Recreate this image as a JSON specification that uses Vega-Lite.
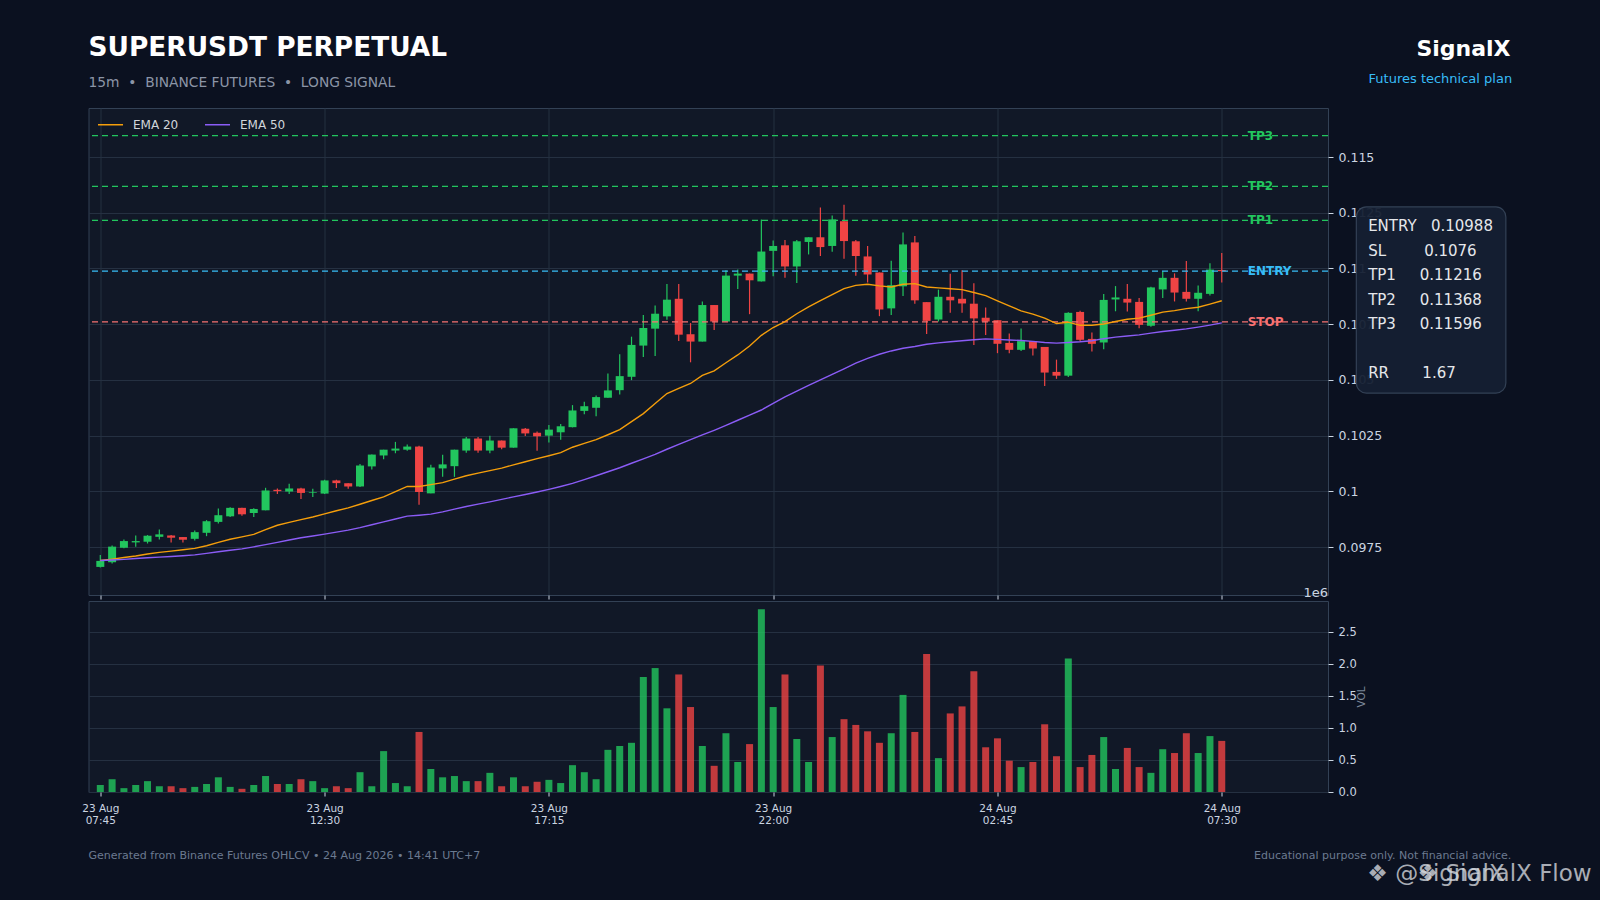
{
  "$schema": "https://vega.github.io/schema/vega-lite/v6.json",
  "background": "#0b1120",
  "autosize": {"type": "none"},
  "padding": {"left": 88.5, "top": 108, "right": 1511.5, "bottom": 792},
  "datasets": {
    "candles": [
      {"t":"2026-08-23T07:45:00Z","o":0.09661,"h":0.09714,"l":0.09658,"c":0.09688,"v":0.11,"e20":0.09690,"e50":0.09690},
      {"t":"2026-08-23T08:00:00Z","o":0.09682,"h":0.09757,"l":0.09676,"c":0.09752,"v":0.20,"e20":0.09696,"e50":0.09692},
      {"t":"2026-08-23T08:15:00Z","o":0.09747,"h":0.09784,"l":0.09745,"c":0.09777,"v":0.06,"e20":0.09703,"e50":0.09695},
      {"t":"2026-08-23T08:30:00Z","o":0.09771,"h":0.09802,"l":0.09752,"c":0.09777,"v":0.11,"e20":0.09710,"e50":0.09699},
      {"t":"2026-08-23T08:45:00Z","o":0.09774,"h":0.09804,"l":0.09766,"c":0.09801,"v":0.17,"e20":0.09719,"e50":0.09702},
      {"t":"2026-08-23T09:00:00Z","o":0.09796,"h":0.09829,"l":0.09784,"c":0.09807,"v":0.09,"e20":0.09726,"e50":0.09705},
      {"t":"2026-08-23T09:15:00Z","o":0.09802,"h":0.09804,"l":0.09771,"c":0.09792,"v":0.09,"e20":0.09732,"e50":0.09708},
      {"t":"2026-08-23T09:30:00Z","o":0.09795,"h":0.09795,"l":0.09770,"c":0.09783,"v":0.06,"e20":0.09738,"e50":0.09711},
      {"t":"2026-08-23T09:45:00Z","o":0.09787,"h":0.09824,"l":0.09780,"c":0.09817,"v":0.08,"e20":0.09744,"e50":0.09715},
      {"t":"2026-08-23T10:00:00Z","o":0.09814,"h":0.09871,"l":0.09799,"c":0.09866,"v":0.125,"e20":0.09756,"e50":0.09722},
      {"t":"2026-08-23T10:15:00Z","o":0.09863,"h":0.09923,"l":0.09856,"c":0.09893,"v":0.23,"e20":0.09771,"e50":0.09729},
      {"t":"2026-08-23T10:30:00Z","o":0.09888,"h":0.09929,"l":0.09885,"c":0.09926,"v":0.08,"e20":0.09785,"e50":0.09736},
      {"t":"2026-08-23T10:45:00Z","o":0.09926,"h":0.09926,"l":0.09891,"c":0.09897,"v":0.05,"e20":0.09796,"e50":0.09742},
      {"t":"2026-08-23T11:00:00Z","o":0.09903,"h":0.09924,"l":0.09885,"c":0.09921,"v":0.11,"e20":0.09807,"e50":0.09751},
      {"t":"2026-08-23T11:15:00Z","o":0.09915,"h":0.10016,"l":0.09915,"c":0.10004,"v":0.25,"e20":0.09828,"e50":0.09761},
      {"t":"2026-08-23T11:30:00Z","o":0.10007,"h":0.10013,"l":0.09988,"c":0.10001,"v":0.125,"e20":0.09848,"e50":0.09771},
      {"t":"2026-08-23T11:45:00Z","o":0.09999,"h":0.10034,"l":0.09988,"c":0.10013,"v":0.125,"e20":0.09861,"e50":0.09782},
      {"t":"2026-08-23T12:00:00Z","o":0.10013,"h":0.10016,"l":0.09966,"c":0.09993,"v":0.20,"e20":0.09873,"e50":0.09792},
      {"t":"2026-08-23T12:15:00Z","o":0.09993,"h":0.10012,"l":0.09975,"c":0.09996,"v":0.17,"e20":0.09885,"e50":0.09800},
      {"t":"2026-08-23T12:30:00Z","o":0.09990,"h":0.10052,"l":0.09988,"c":0.10049,"v":0.06,"e20":0.09899,"e50":0.09808},
      {"t":"2026-08-23T12:45:00Z","o":0.10049,"h":0.10052,"l":0.10015,"c":0.10037,"v":0.09,"e20":0.09913,"e50":0.09817},
      {"t":"2026-08-23T13:00:00Z","o":0.10036,"h":0.10036,"l":0.10012,"c":0.10022,"v":0.06,"e20":0.09926,"e50":0.09826},
      {"t":"2026-08-23T13:15:00Z","o":0.10022,"h":0.10123,"l":0.10019,"c":0.10116,"v":0.31,"e20":0.09942,"e50":0.09837},
      {"t":"2026-08-23T13:30:00Z","o":0.10112,"h":0.10165,"l":0.10098,"c":0.10165,"v":0.09,"e20":0.09959,"e50":0.09850},
      {"t":"2026-08-23T13:45:00Z","o":0.10161,"h":0.10187,"l":0.10144,"c":0.10187,"v":0.64,"e20":0.09975,"e50":0.09863},
      {"t":"2026-08-23T14:00:00Z","o":0.10183,"h":0.10222,"l":0.10171,"c":0.10192,"v":0.14,"e20":0.09999,"e50":0.09876},
      {"t":"2026-08-23T14:15:00Z","o":0.10187,"h":0.10210,"l":0.10182,"c":0.10201,"v":0.09,"e20":0.10022,"e50":0.09889},
      {"t":"2026-08-23T14:30:00Z","o":0.10201,"h":0.10205,"l":0.09940,"c":0.09997,"v":0.94,"e20":0.10022,"e50":0.09893},
      {"t":"2026-08-23T14:45:00Z","o":0.09991,"h":0.10119,"l":0.09991,"c":0.10107,"v":0.36,"e20":0.10030,"e50":0.09898},
      {"t":"2026-08-23T15:00:00Z","o":0.10103,"h":0.10164,"l":0.10065,"c":0.10121,"v":0.23,"e20":0.10039,"e50":0.09908},
      {"t":"2026-08-23T15:15:00Z","o":0.10113,"h":0.10187,"l":0.10065,"c":0.10187,"v":0.25,"e20":0.10055,"e50":0.09920},
      {"t":"2026-08-23T15:30:00Z","o":0.10183,"h":0.10244,"l":0.10173,"c":0.10237,"v":0.17,"e20":0.10070,"e50":0.09932},
      {"t":"2026-08-23T15:45:00Z","o":0.10237,"h":0.10244,"l":0.10173,"c":0.10183,"v":0.17,"e20":0.10082,"e50":0.09943},
      {"t":"2026-08-23T16:00:00Z","o":0.10183,"h":0.10250,"l":0.10171,"c":0.10228,"v":0.30,"e20":0.10093,"e50":0.09953},
      {"t":"2026-08-23T16:15:00Z","o":0.10228,"h":0.10228,"l":0.10189,"c":0.10196,"v":0.09,"e20":0.10104,"e50":0.09964},
      {"t":"2026-08-23T16:30:00Z","o":0.10196,"h":0.10283,"l":0.10196,"c":0.10283,"v":0.23,"e20":0.10119,"e50":0.09975},
      {"t":"2026-08-23T16:45:00Z","o":0.10281,"h":0.10284,"l":0.10248,"c":0.10260,"v":0.09,"e20":0.10133,"e50":0.09986},
      {"t":"2026-08-23T17:00:00Z","o":0.10263,"h":0.10269,"l":0.10182,"c":0.10247,"v":0.16,"e20":0.10147,"e50":0.09997},
      {"t":"2026-08-23T17:15:00Z","o":0.10250,"h":0.10298,"l":0.10219,"c":0.10277,"v":0.19,"e20":0.10160,"e50":0.10009},
      {"t":"2026-08-23T17:30:00Z","o":0.10265,"h":0.10302,"l":0.10231,"c":0.10292,"v":0.14,"e20":0.10174,"e50":0.10022},
      {"t":"2026-08-23T17:45:00Z","o":0.10288,"h":0.10387,"l":0.10287,"c":0.10363,"v":0.42,"e20":0.10198,"e50":0.10036},
      {"t":"2026-08-23T18:00:00Z","o":0.10361,"h":0.10402,"l":0.10346,"c":0.10382,"v":0.31,"e20":0.10215,"e50":0.10053},
      {"t":"2026-08-23T18:15:00Z","o":0.10375,"h":0.10430,"l":0.10337,"c":0.10423,"v":0.20,"e20":0.10232,"e50":0.10070},
      {"t":"2026-08-23T18:30:00Z","o":0.10420,"h":0.10529,"l":0.10420,"c":0.10453,"v":0.66,"e20":0.10254,"e50":0.10088},
      {"t":"2026-08-23T18:45:00Z","o":0.10454,"h":0.10615,"l":0.10435,"c":0.10517,"v":0.72,"e20":0.10277,"e50":0.10106},
      {"t":"2026-08-23T19:00:00Z","o":0.10514,"h":0.10694,"l":0.10499,"c":0.10657,"v":0.77,"e20":0.10313,"e50":0.10126},
      {"t":"2026-08-23T19:15:00Z","o":0.10654,"h":0.10791,"l":0.10603,"c":0.10733,"v":1.80,"e20":0.10349,"e50":0.10146},
      {"t":"2026-08-23T19:30:00Z","o":0.10730,"h":0.10834,"l":0.10607,"c":0.10797,"v":1.94,"e20":0.10394,"e50":0.10166},
      {"t":"2026-08-23T19:45:00Z","o":0.10785,"h":0.10930,"l":0.10770,"c":0.10860,"v":1.31,"e20":0.10439,"e50":0.10189},
      {"t":"2026-08-23T20:00:00Z","o":0.10864,"h":0.10930,"l":0.10675,"c":0.10703,"v":1.84,"e20":0.10462,"e50":0.10211},
      {"t":"2026-08-23T20:15:00Z","o":0.10705,"h":0.10755,"l":0.10579,"c":0.10672,"v":1.33,"e20":0.10484,"e50":0.10232},
      {"t":"2026-08-23T20:30:00Z","o":0.10672,"h":0.10852,"l":0.10672,"c":0.10836,"v":0.72,"e20":0.10520,"e50":0.10253},
      {"t":"2026-08-23T20:45:00Z","o":0.10836,"h":0.10836,"l":0.10724,"c":0.10762,"v":0.41,"e20":0.10541,"e50":0.10274},
      {"t":"2026-08-23T21:00:00Z","o":0.10762,"h":0.10992,"l":0.10762,"c":0.10968,"v":0.92,"e20":0.10577,"e50":0.10296},
      {"t":"2026-08-23T21:15:00Z","o":0.10968,"h":0.10995,"l":0.10908,"c":0.10977,"v":0.47,"e20":0.10612,"e50":0.10319},
      {"t":"2026-08-23T21:30:00Z","o":0.10977,"h":0.10977,"l":0.10795,"c":0.10947,"v":0.75,"e20":0.10652,"e50":0.10342},
      {"t":"2026-08-23T21:45:00Z","o":0.10942,"h":0.11220,"l":0.10942,"c":0.11076,"v":2.86,"e20":0.10700,"e50":0.10365},
      {"t":"2026-08-23T22:00:00Z","o":0.11079,"h":0.11125,"l":0.10965,"c":0.11101,"v":1.33,"e20":0.10735,"e50":0.10395},
      {"t":"2026-08-23T22:15:00Z","o":0.11104,"h":0.11128,"l":0.10958,"c":0.11009,"v":1.84,"e20":0.10762,"e50":0.10424},
      {"t":"2026-08-23T22:30:00Z","o":0.11009,"h":0.11128,"l":0.10935,"c":0.11122,"v":0.83,"e20":0.10797,"e50":0.10450},
      {"t":"2026-08-23T22:45:00Z","o":0.11119,"h":0.11140,"l":0.11063,"c":0.11140,"v":0.47,"e20":0.10828,"e50":0.10475},
      {"t":"2026-08-23T23:00:00Z","o":0.11140,"h":0.11274,"l":0.11056,"c":0.11096,"v":1.98,"e20":0.10856,"e50":0.10500},
      {"t":"2026-08-23T23:15:00Z","o":0.11101,"h":0.11238,"l":0.11075,"c":0.11220,"v":0.86,"e20":0.10883,"e50":0.10525},
      {"t":"2026-08-23T23:30:00Z","o":0.11212,"h":0.11286,"l":0.11044,"c":0.11123,"v":1.14,"e20":0.10910,"e50":0.10550},
      {"t":"2026-08-23T23:45:00Z","o":0.11122,"h":0.11128,"l":0.10967,"c":0.11056,"v":1.05,"e20":0.10924,"e50":0.10575},
      {"t":"2026-08-24T00:00:00Z","o":0.11054,"h":0.11101,"l":0.10937,"c":0.10973,"v":0.95,"e20":0.10929,"e50":0.10597},
      {"t":"2026-08-24T00:15:00Z","o":0.10982,"h":0.10982,"l":0.10786,"c":0.10816,"v":0.77,"e20":0.10922,"e50":0.10615},
      {"t":"2026-08-24T00:30:00Z","o":0.10821,"h":0.11035,"l":0.10791,"c":0.10925,"v":0.92,"e20":0.10917,"e50":0.10630},
      {"t":"2026-08-24T00:45:00Z","o":0.10920,"h":0.11161,"l":0.10877,"c":0.11108,"v":1.52,"e20":0.10929,"e50":0.10642},
      {"t":"2026-08-24T01:00:00Z","o":0.11117,"h":0.11146,"l":0.10842,"c":0.10857,"v":0.94,"e20":0.10932,"e50":0.10650},
      {"t":"2026-08-24T01:15:00Z","o":0.10849,"h":0.10849,"l":0.10706,"c":0.10765,"v":2.16,"e20":0.10917,"e50":0.10660},
      {"t":"2026-08-24T01:30:00Z","o":0.10771,"h":0.10905,"l":0.10762,"c":0.10873,"v":0.53,"e20":0.10913,"e50":0.10666},
      {"t":"2026-08-24T01:45:00Z","o":0.10873,"h":0.10976,"l":0.10801,"c":0.10857,"v":1.23,"e20":0.10909,"e50":0.10671},
      {"t":"2026-08-24T02:00:00Z","o":0.10864,"h":0.10992,"l":0.10801,"c":0.10843,"v":1.34,"e20":0.10905,"e50":0.10676},
      {"t":"2026-08-24T02:15:00Z","o":0.10842,"h":0.10934,"l":0.10657,"c":0.10776,"v":1.89,"e20":0.10892,"e50":0.10680},
      {"t":"2026-08-24T02:30:00Z","o":0.10779,"h":0.10825,"l":0.10702,"c":0.10762,"v":0.70,"e20":0.10878,"e50":0.10684},
      {"t":"2026-08-24T02:45:00Z","o":0.10768,"h":0.10768,"l":0.10620,"c":0.10662,"v":0.84,"e20":0.10855,"e50":0.10682},
      {"t":"2026-08-24T03:00:00Z","o":0.10666,"h":0.10708,"l":0.10620,"c":0.10635,"v":0.49,"e20":0.10832,"e50":0.10679},
      {"t":"2026-08-24T03:15:00Z","o":0.10635,"h":0.10731,"l":0.10630,"c":0.10674,"v":0.39,"e20":0.10810,"e50":0.10677},
      {"t":"2026-08-24T03:30:00Z","o":0.10674,"h":0.10674,"l":0.10609,"c":0.10641,"v":0.47,"e20":0.10795,"e50":0.10673},
      {"t":"2026-08-24T03:45:00Z","o":0.10648,"h":0.10648,"l":0.10473,"c":0.10533,"v":1.06,"e20":0.10777,"e50":0.10668},
      {"t":"2026-08-24T04:00:00Z","o":0.10536,"h":0.10591,"l":0.10505,"c":0.10519,"v":0.56,"e20":0.10753,"e50":0.10665},
      {"t":"2026-08-24T04:15:00Z","o":0.10519,"h":0.10804,"l":0.10513,"c":0.10801,"v":2.09,"e20":0.10759,"e50":0.10668},
      {"t":"2026-08-24T04:30:00Z","o":0.10805,"h":0.10810,"l":0.10672,"c":0.10680,"v":0.39,"e20":0.10745,"e50":0.10671},
      {"t":"2026-08-24T04:45:00Z","o":0.10684,"h":0.10713,"l":0.10627,"c":0.10662,"v":0.58,"e20":0.10745,"e50":0.10676},
      {"t":"2026-08-24T05:00:00Z","o":0.10668,"h":0.10885,"l":0.10638,"c":0.10859,"v":0.86,"e20":0.10751,"e50":0.10685},
      {"t":"2026-08-24T05:15:00Z","o":0.10861,"h":0.10921,"l":0.10808,"c":0.10870,"v":0.36,"e20":0.10762,"e50":0.10692},
      {"t":"2026-08-24T05:30:00Z","o":0.10864,"h":0.10930,"l":0.10807,"c":0.10847,"v":0.69,"e20":0.10772,"e50":0.10697},
      {"t":"2026-08-24T05:45:00Z","o":0.10850,"h":0.10867,"l":0.10732,"c":0.10747,"v":0.39,"e20":0.10777,"e50":0.10702},
      {"t":"2026-08-24T06:00:00Z","o":0.10743,"h":0.10918,"l":0.10738,"c":0.10915,"v":0.30,"e20":0.10790,"e50":0.10710},
      {"t":"2026-08-24T06:15:00Z","o":0.10906,"h":0.10987,"l":0.10867,"c":0.10958,"v":0.67,"e20":0.10804,"e50":0.10717},
      {"t":"2026-08-24T06:30:00Z","o":0.10958,"h":0.10978,"l":0.10852,"c":0.10892,"v":0.61,"e20":0.10811,"e50":0.10723},
      {"t":"2026-08-24T06:45:00Z","o":0.10895,"h":0.11034,"l":0.10852,"c":0.10864,"v":0.92,"e20":0.10820,"e50":0.10729},
      {"t":"2026-08-24T07:00:00Z","o":0.10864,"h":0.10924,"l":0.10808,"c":0.10891,"v":0.61,"e20":0.10826,"e50":0.10737},
      {"t":"2026-08-24T07:15:00Z","o":0.10886,"h":0.11024,"l":0.10879,"c":0.10995,"v":0.875,"e20":0.10840,"e50":0.10746},
      {"t":"2026-08-24T07:30:00Z","o":0.10993,"h":0.11069,"l":0.10937,"c":0.10988,"v":0.80,"e20":0.10855,"e50":0.10756}
    ],
    "levels": [
      {"name": "TP3", "price": 0.11596},
      {"name": "TP2", "price": 0.11368},
      {"name": "TP1", "price": 0.11216},
      {"name": "ENTRY", "price": 0.10988},
      {"name": "STOP", "price": 0.1076}
    ]
  },
  "vconcat": [
    {
      "width": 1239.5,
      "height": 487,
      "layer": [
        {
          "data": {"name": "candles"},
          "mark": {"type": "rule", "strokeWidth": 1.2},
          "encoding": {
            "x": {
              "field": "t", "type": "temporal", "title": null,
              "scale": {"type": "utc", "nice": false, "padding": 0, "domain": [
                {"year": 2026, "month": 8, "date": 23, "hours": 7, "minutes": 30, "utc": true},
                {"year": 2026, "month": 8, "date": 24, "hours": 9, "minutes": 45, "utc": true}
              ]},
              "axis": {
                "values": [
                  {"year": 2026, "month": 8, "date": 23, "hours": 7, "minutes": 45, "utc": true},
                  {"year": 2026, "month": 8, "date": 23, "hours": 12, "minutes": 30, "utc": true},
                  {"year": 2026, "month": 8, "date": 23, "hours": 17, "minutes": 15, "utc": true},
                  {"year": 2026, "month": 8, "date": 23, "hours": 22, "minutes": 0, "utc": true},
                  {"year": 2026, "month": 8, "date": 24, "hours": 2, "minutes": 45, "utc": true},
                  {"year": 2026, "month": 8, "date": 24, "hours": 7, "minutes": 30, "utc": true}
                ],
                "tickCount": 20, "labels": false, "ticks": true, "tickSize": 4, "grid": true, "domain": false, "title": null
              }
            },
            "y": {
              "field": "l", "type": "quantitative", "title": null,
              "scale": {"domain": [0.09535, 0.1172], "nice": false, "zero": false},
              "axis": {
                "orient": "right",
                "values": [0.0975, 0.1, 0.1025, 0.105, 0.1075, 0.11, 0.1125, 0.115],
                "tickCount": 20, "format": ".4~g", "labelFontSize": 12.5, "tickSize": 5, "labelPadding": 5,
                "labelOverlap": false, "grid": true, "domain": false, "title": null
              }
            },
            "y2": {"field": "h"},
            "color": {"condition": {"test": "datum.c >= datum.o", "value": "#22c55e"}, "value": "#ef4444"}
          }
        },
        {
          "data": {"name": "candles"},
          "mark": {"type": "bar", "width": 8},
          "encoding": {
            "x": {"field": "t", "type": "temporal", "title": null},
            "y": {"field": "o", "type": "quantitative", "title": null},
            "y2": {"field": "c"},
            "color": {"condition": {"test": "datum.c >= datum.o", "value": "#22c55e"}, "value": "#ef4444"}
          }
        },
        {
          "data": {"name": "levels"},
          "mark": {"type": "rule", "strokeDash": [6, 4], "strokeWidth": 1.3},
          "encoding": {
            "y": {"field": "price", "type": "quantitative", "title": null},
            "color": {"field": "name", "type": "nominal", "legend": null,
              "scale": {"domain": ["TP3", "TP2", "TP1", "ENTRY", "STOP"], "range": ["#22c55e", "#22c55e", "#22c55e", "#38bdf8", "#f87171"]}}
          }
        },
        {
          "data": {"name": "levels"},
          "mark": {"type": "text", "align": "left", "baseline": "middle", "fontWeight": "bold", "fontSize": 12, "font": "DejaVu Sans"},
          "encoding": {
            "x": {"datum": {"year": 2026, "month": 8, "date": 24, "hours": 8, "minutes": 3, "utc": true}, "type": "temporal"},
            "y": {"field": "price", "type": "quantitative", "title": null},
            "text": {"field": "name"},
            "color": {"field": "name", "type": "nominal", "legend": null}
          }
        },
        {
          "data": {"name": "candles"},
          "transform": [{"fold": ["e20", "e50"], "as": ["k", "val"]}],
          "mark": {"type": "line", "strokeWidth": 1.4},
          "encoding": {
            "x": {"field": "t", "type": "temporal", "title": null},
            "y": {"field": "val", "type": "quantitative", "title": null},
            "stroke": {
              "field": "k", "type": "nominal",
              "scale": {"domain": ["e20", "e50"], "range": ["#f59e0b", "#8b5cf6"]},
              "legend": {
                "orient": "none", "legendX": 4.5, "legendY": -1, "direction": "horizontal", "title": null,
                "symbolType": "stroke", "symbolSize": 625, "symbolStrokeWidth": 1.5,
                "labelColor": "#d1d5db", "labelFontSize": 12, "labelFont": "DejaVu Sans",
                "padding": 4, "columnPadding": 23, "labelOffset": 9,
                "labelExpr": "datum.label == 'e20' ? 'EMA 20' : 'EMA 50'"
              }
            }
          }
        },
        {
          "data": {"values": [{}]},
          "mark": {"type": "rect", "cornerRadius": 10, "fill": "#152033", "fillOpacity": 0.95, "stroke": "#334155", "strokeWidth": 1.2},
          "encoding": {
            "x": {"datum": {"year": 2026, "month": 8, "date": 24, "hours": 10, "minutes": 21, "utc": true}, "type": "temporal"},
            "x2": {"datum": {"year": 2026, "month": 8, "date": 24, "hours": 13, "minutes": 31, "utc": true}},
            "y": {"datum": 0.11276, "type": "quantitative"},
            "y2": {"datum": 0.10441}
          }
        },
        {
          "data": {"values": [{}]},
          "mark": {"type": "text", "align": "left", "baseline": "top", "fontSize": 15, "font": "DejaVu Sans", "color": "#e5e7eb", "lineHeight": 24.6},
          "encoding": {
            "x": {"datum": {"year": 2026, "month": 8, "date": 24, "hours": 10, "minutes": 36, "utc": true}, "type": "temporal"},
            "y": {"datum": 0.11222, "type": "quantitative"},
            "text": {"value": [
              "ENTRY\u00a0\u00a0\u00a00.10988",
              "SL\u00a0\u00a0\u00a0\u00a0\u00a0\u00a0\u00a0\u00a00.1076",
              "TP1\u00a0\u00a0\u00a0\u00a0\u00a00.11216",
              "TP2\u00a0\u00a0\u00a0\u00a0\u00a00.11368",
              "TP3\u00a0\u00a0\u00a0\u00a0\u00a00.11596"
            ]}
          }
        },
        {
          "data": {"values": [{}]},
          "mark": {"type": "text", "align": "left", "baseline": "middle", "fontSize": 15, "font": "DejaVu Sans", "color": "#e5e7eb"},
          "encoding": {
            "x": {"datum": {"year": 2026, "month": 8, "date": 24, "hours": 10, "minutes": 36, "utc": true}, "type": "temporal"},
            "y": {"datum": 0.10533, "type": "quantitative"},
            "text": {"value": "RR\u00a0\u00a0\u00a0\u00a0\u00a0\u00a0\u00a01.67"}
          }
        },
        {
          "data": {"values": [{}]},
          "mark": {"type": "text", "align": "right", "baseline": "alphabetic", "fontSize": 13, "font": "DejaVu Sans", "color": "#cbd5e1", "dy": 2},
          "encoding": {
            "x": {"datum": {"year": 2026, "month": 8, "date": 24, "hours": 9, "minutes": 45, "utc": true}, "type": "temporal"},
            "y": {"datum": 0.09535, "type": "quantitative"},
            "text": {"value": "1e6"}
          }
        },
        {
          "data": {"values": [{}]},
          "mark": {"type": "text", "align": "left", "baseline": "middle", "fontSize": 26.4, "fontWeight": "bold", "font": "DejaVu Sans", "color": "#ffffff"},
          "encoding": {
            "x": {"datum": {"year": 2026, "month": 8, "date": 23, "hours": 7, "minutes": 30, "utc": true}, "type": "temporal"},
            "y": {"datum": 0.11991, "type": "quantitative"},
            "text": {"value": "SUPERUSDT PERPETUAL"}
          }
        },
        {
          "data": {"values": [{}]},
          "mark": {"type": "text", "align": "left", "baseline": "middle", "fontSize": 13.8, "font": "DejaVu Sans", "color": "#8b95a7"},
          "encoding": {
            "x": {"datum": {"year": 2026, "month": 8, "date": 23, "hours": 7, "minutes": 30, "utc": true}, "type": "temporal"},
            "y": {"datum": 0.11834, "type": "quantitative"},
            "text": {"value": "15m\u00a0\u00a0•\u00a0\u00a0BINANCE FUTURES\u00a0\u00a0•\u00a0\u00a0LONG SIGNAL"}
          }
        },
        {
          "data": {"values": [{}]},
          "mark": {"type": "text", "align": "right", "baseline": "middle", "fontSize": 22, "fontWeight": "bold", "font": "DejaVu Sans", "color": "#ffffff"},
          "encoding": {
            "x": {"datum": {"year": 2026, "month": 8, "date": 24, "hours": 13, "minutes": 37, "utc": true}, "type": "temporal"},
            "y": {"datum": 0.11985, "type": "quantitative"},
            "text": {"value": "SignalX"}
          }
        },
        {
          "data": {"values": [{}]},
          "mark": {"type": "text", "align": "right", "baseline": "middle", "fontSize": 13, "font": "DejaVu Sans", "color": "#38bdf8"},
          "encoding": {
            "x": {"datum": {"year": 2026, "month": 8, "date": 24, "hours": 13, "minutes": 39, "utc": true}, "type": "temporal"},
            "y": {"datum": 0.11852, "type": "quantitative"},
            "text": {"value": "Futures technical plan"}
          }
        }
      ]
    },
    {
      "width": 1239.5,
      "height": 191,
      "layer": [
        {
          "data": {"name": "candles"},
          "mark": {"type": "bar", "width": 7, "opacity": 0.8},
          "encoding": {
            "x": {
              "field": "t", "type": "temporal", "title": null,
              "scale": {"type": "utc", "nice": false, "padding": 0, "domain": [
                {"year": 2026, "month": 8, "date": 23, "hours": 7, "minutes": 30, "utc": true},
                {"year": 2026, "month": 8, "date": 24, "hours": 9, "minutes": 45, "utc": true}
              ]},
              "axis": {
                "values": [
                  {"year": 2026, "month": 8, "date": 23, "hours": 7, "minutes": 45, "utc": true},
                  {"year": 2026, "month": 8, "date": 23, "hours": 12, "minutes": 30, "utc": true},
                  {"year": 2026, "month": 8, "date": 23, "hours": 17, "minutes": 15, "utc": true},
                  {"year": 2026, "month": 8, "date": 23, "hours": 22, "minutes": 0, "utc": true},
                  {"year": 2026, "month": 8, "date": 24, "hours": 2, "minutes": 45, "utc": true},
                  {"year": 2026, "month": 8, "date": 24, "hours": 7, "minutes": 30, "utc": true}
                ],
                "tickCount": 20,
                "labelExpr": "[utcFormat(datum.value, '%d %b'), utcFormat(datum.value, '%H:%M')]",
                "labelFontSize": 10.5, "labelLineHeight": 12, "labelPadding": 7, "labelOverlap": false,
                "ticks": true, "tickSize": 4, "grid": false, "domain": false, "title": null
              }
            },
            "y": {
              "field": "v", "type": "quantitative",
              "scale": {"domain": [0, 2.99], "nice": false},
              "axis": {
                "orient": "right", "values": [0, 0.5, 1, 1.5, 2, 2.5], "tickCount": 20, "format": ".1f", "labelOverlap": false,
                "labelFontSize": 11.5, "tickSize": 5, "labelPadding": 5, "grid": true, "domain": false,
                "title": "VOL", "titleColor": "#7c8798", "titleFontSize": 10.5, "titleFontWeight": "normal",
                "titleAngle": 270, "titlePadding": 10, "titleFont": "DejaVu Sans"
              }
            },
            "color": {"condition": {"test": "datum.c >= datum.o", "value": "#22c55e"}, "value": "#ef4444"}
          }
        },
        {
          "data": {"values": [{}]},
          "mark": {"type": "text", "align": "left", "baseline": "middle", "fontSize": 11, "font": "DejaVu Sans", "color": "#6b7a90"},
          "encoding": {
            "x": {"datum": {"year": 2026, "month": 8, "date": 23, "hours": 7, "minutes": 30, "utc": true}, "type": "temporal"},
            "y": {"datum": -1.0, "type": "quantitative"},
            "text": {"value": "Generated from Binance Futures OHLCV • 24 Aug 2026 • 14:41 UTC+7"}
          }
        },
        {
          "data": {"values": [{}]},
          "mark": {"type": "text", "align": "right", "baseline": "middle", "fontSize": 11, "font": "DejaVu Sans", "color": "#6b7a90"},
          "encoding": {
            "x": {"datum": {"year": 2026, "month": 8, "date": 24, "hours": 13, "minutes": 38, "utc": true}, "type": "temporal"},
            "y": {"datum": -1.0, "type": "quantitative"},
            "text": {"value": "Educational purpose only. Not financial advice."}
          }
        },
        {
          "data": {"values": [{}]},
          "mark": {"type": "text", "align": "left", "baseline": "middle", "fontSize": 23, "font": "DejaVu Sans", "color": "#d1d5db", "opacity": 0.8},
          "encoding": {
            "x": {"datum": {"year": 2026, "month": 8, "date": 24, "hours": 10, "minutes": 35, "utc": true}, "type": "temporal"},
            "y": {"datum": -1.291, "type": "quantitative"},
            "text": {"value": "❖ @SignalX"}
          }
        },
        {
          "data": {"values": [{}]},
          "mark": {"type": "text", "align": "right", "baseline": "middle", "fontSize": 23, "font": "DejaVu Sans", "color": "#d1d5db", "opacity": 0.8},
          "encoding": {
            "x": {"datum": {"year": 2026, "month": 8, "date": 24, "hours": 15, "minutes": 20, "utc": true}, "type": "temporal"},
            "y": {"datum": -1.291, "type": "quantitative"},
            "text": {"value": "❖ SignalX Flow"}
          }
        }
      ]
    }
  ],
  "spacing": 6,
  "bounds": "flush",
  "resolve": {"scale": {"color": "independent", "stroke": "independent"}, "legend": {"stroke": "independent"}},
  "config": {
    "font": "DejaVu Sans",
    "view": {"stroke": "#334155", "strokeWidth": 1, "fill": "#111827"},
    "axis": {
      "gridColor": "#253041", "gridWidth": 1, "domain": false,
      "tickColor": "#cbd5e1", "labelColor": "#cbd5e1", "labelFont": "DejaVu Sans"
    }
  }
}
